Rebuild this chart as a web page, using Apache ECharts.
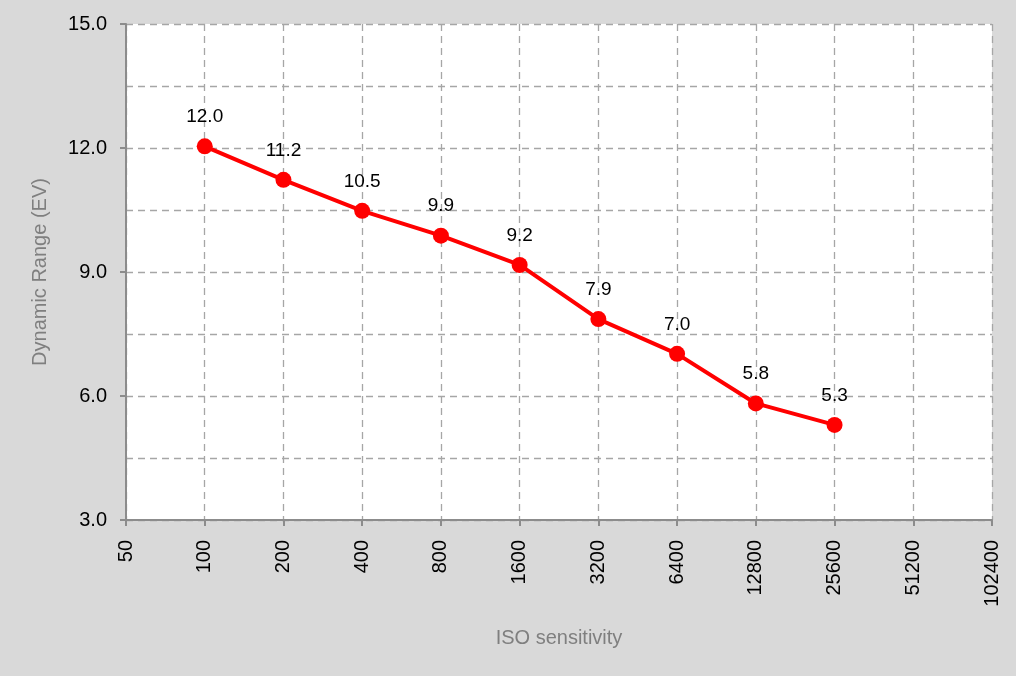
<!DOCTYPE html>
<html>
<head>
<meta charset="utf-8">
<script src="https://cdn.jsdelivr.net/npm/echarts@6/dist/echarts.min.js"></script>
<style>
  html, body { margin: 0; padding: 0; background: #d9d9d9; }
  #chart { width: 1016px; height: 676px; }
</style>
</head>
<body>
<div id="chart"></div>
<script>
var isoLabels = ['50', '100', '200', '400', '800', '1600', '3200', '6400', '12800', '25600', '51200', '102400'];
var dynamicRange = [null, 12.04, 11.23, 10.48, 9.88, 9.17, 7.86, 7.02, 5.82, 5.30, null, null];

var myChart = echarts.init(document.getElementById('chart'));

var option = {
    backgroundColor: '#d9d9d9',
    textStyle: { fontFamily: 'Liberation Sans, Arial, sans-serif' },
    grid: { left: 126, right: 24, top: 24, bottom: 156, show: true, backgroundColor: '#ffffff', borderWidth: 0 },
    xAxis: {
        type: 'category',
        data: isoLabels,
        boundaryGap: false,
        name: 'ISO sensitivity',
        nameLocation: 'middle',
        nameGap: 108,
        nameTextStyle: { color: '#7f7f7f', fontSize: 20 },
        axisLine: { lineStyle: { color: '#8c8c8c', width: 2 } },
        axisTick: { show: true, alignWithLabel: true, length: 6, lineStyle: { color: '#8c8c8c', width: 2 } },
        axisLabel: { rotate: 90, color: '#000', fontSize: 20, margin: 20, interval: 0 },
        splitLine: { show: true, lineStyle: { color: '#a6a6a6', type: [7, 5], width: 1.3 } }
    },
    yAxis: {
        type: 'value',
        min: 3,
        max: 15,
        interval: 3,
        name: 'Dynamic Range (EV)',
        nameLocation: 'middle',
        nameGap: 76,
        nameTextStyle: { color: '#7f7f7f', fontSize: 20 },
        axisLine: { show: true, lineStyle: { color: '#8c8c8c', width: 2 } },
        axisTick: { show: true, length: 6, lineStyle: { color: '#8c8c8c', width: 2 } },
        axisLabel: { color: '#000', fontSize: 20, margin: 19, formatter: function (v) { return v.toFixed(1); } },
        splitLine: { show: true, lineStyle: { color: '#a6a6a6', type: [7, 5], width: 1.3 } },
        minorTick: { show: false, splitNumber: 2 },
        minorSplitLine: { show: true, lineStyle: { color: '#a6a6a6', type: [7, 5], width: 1.3 } }
    },
    series: [
        {
            type: 'line',
            data: dynamicRange,
            connectNulls: false,
            symbol: 'circle',
            symbolSize: 16,
            lineStyle: { color: '#ff0000', width: 4 },
            itemStyle: { color: '#ff0000' },
            label: {
                show: true,
                position: 'top',
                distance: 12,
                color: '#000',
                fontSize: 19,
                formatter: function (p) { return p.value.toFixed(1); }
            }
        }
    ]
};

myChart.setOption(option);
window.onresize = function () {
    myChart.resize();
};
</script>
</body>
</html>
